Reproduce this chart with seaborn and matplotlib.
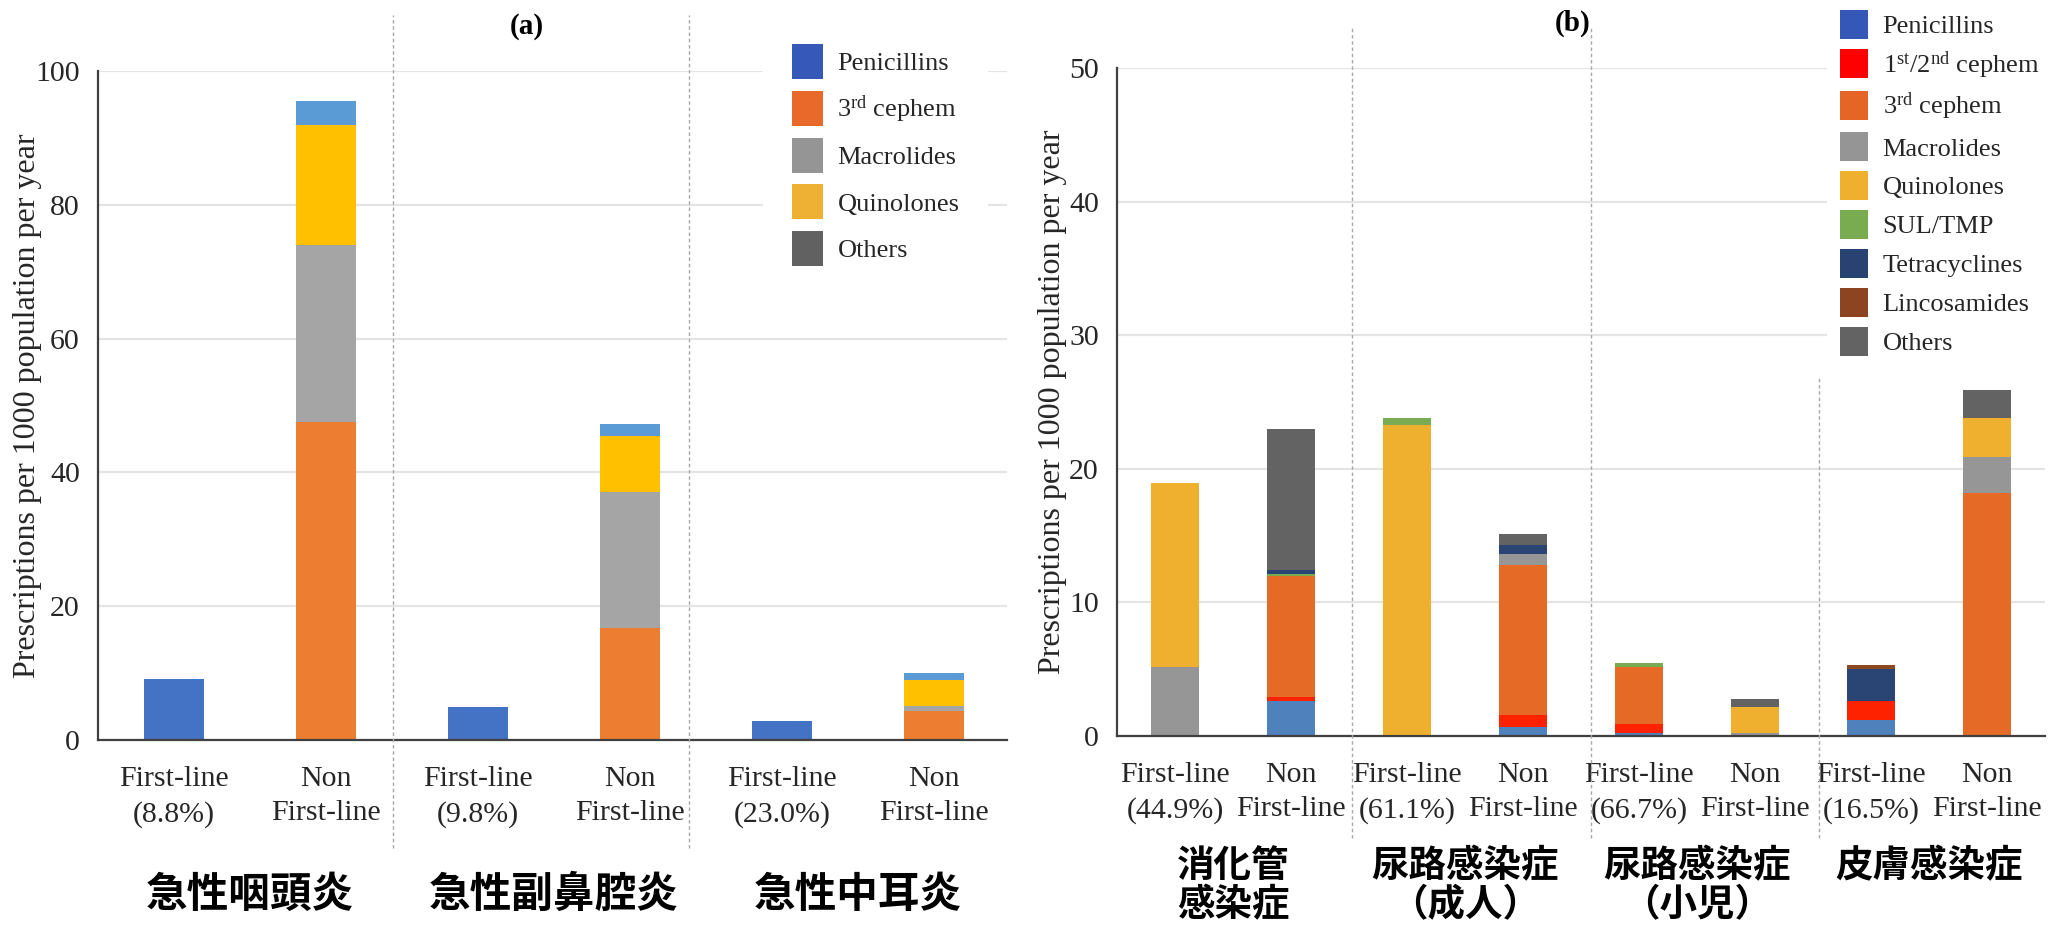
import numpy as np
import pandas as pd
import matplotlib
matplotlib.use("Agg")
import matplotlib.pyplot as plt
import matplotlib.transforms as mtransforms
from matplotlib.patches import Patch
import seaborn as sns

# ---------------- data: (a) acute respiratory tract infections ----------------
a_groups = ["急性咽頭炎", "急性副鼻腔炎", "急性中耳炎"]
a_ticks = ["First-line\n(8.8%)", "Non\nFirst-line",
           "First-line\n(9.8%)", "Non\nFirst-line",
           "First-line\n(23.0%)", "Non\nFirst-line"]
a_classes = ["Penicillins", "3rd cephem", "Macrolides", "Quinolones", "Others"]
a_penicillins = [9.1, 0, 5.0, 0, 2.9, 0]
a_cephem3 = [0, 47.6, 0, 16.7, 0, 4.3]
a_macrolides = [0, 26.4, 0, 20.3, 0, 0.8]
a_quinolones = [0, 18.0, 0, 8.4, 0, 3.9]
a_others = [0, 3.5, 0, 1.8, 0, 1.0]

# ---------------- data: (b) other infections ----------------
b_groups = ["消化管\n感染症", "尿路感染症\n（成人）", "尿路感染症\n（小児）", "皮膚感染症"]
b_ticks = ["First-line\n(44.9%)", "Non\nFirst-line",
           "First-line\n(61.1%)", "Non\nFirst-line",
           "First-line\n(66.7%)", "Non\nFirst-line",
           "First-line\n(16.5%)", "Non\nFirst-line"]
b_classes = ["Penicillins", "1st/2nd cephem", "3rd cephem", "Macrolides", "Quinolones",
             "SUL/TMP", "Tetracyclines", "Lincosamides", "Others"]
b_penicillins = [0, 2.6, 0, 0.7, 0.25, 0, 1.2, 0]
b_cephem12 = [0, 0.35, 0, 0.85, 0.65, 0, 1.4, 0]
b_cephem3 = [0, 9.05, 0, 11.25, 4.3, 0, 0, 18.2]
b_macrolides = [5.2, 0, 0, 0.85, 0, 0.25, 0, 2.7]
b_quinolones = [13.7, 0, 23.3, 0, 0, 1.9, 0, 2.9]
b_sul_tmp = [0, 0.15, 0.5, 0, 0.25, 0, 0, 0]
b_tetracyclines = [0, 0.25, 0, 0.65, 0, 0, 2.4, 0]
b_lincosamides = [0, 0, 0, 0, 0, 0, 0.3, 0]
b_others = [0, 10.6, 0, 0.85, 0, 0.6, 0, 2.1]

# ---------------- colours ----------------
a_bar_colors = ["#4472C4", "#ED7D31", "#A5A5A5", "#FFC000", "#5B9BD5"]
a_legend_colors = ["#3658B8", "#E8692A", "#959595", "#EFB134", "#616161"]
b_bar_colors = ["#4F81BD", "#FF2200", "#E56A26", "#969696", "#EFB030",
                "#79AB52", "#2A4574", "#8B4A1F", "#636363"]
b_legend_colors = ["#3557B7", "#FF0000", "#E46526", "#959595", "#EFB030",
                   "#79AC50", "#284272", "#8C4520", "#636363"]

legend_text = {
    "3rd cephem": r"3$^{\mathrm{rd}}$ cephem",
    "1st/2nd cephem": r"1$^{\mathrm{st}}$/2$^{\mathrm{nd}}$ cephem",
}

sns.set_theme(style="white")
plt.rcParams["font.family"] = ["Liberation Serif", "Noto Sans CJK JP"]
plt.rcParams["mathtext.fontset"] = "custom"
plt.rcParams["mathtext.rm"] = "Liberation Serif"
plt.rcParams["mathtext.it"] = "Liberation Serif:italic"
plt.rcParams["mathtext.bf"] = "Liberation Serif:bold"

TEXT = "#262626"
SPINE = "#404040"
GRID = "#E4E4E4"
DIVIDER = "#A8A8A8"
CJK = "Noto Sans CJK JP"
SERIF = "Liberation Serif"

W, H = 2051, 933
fig = plt.figure(figsize=(W / 100, H / 100), dpi=100)


def px_axes(left, right, top, bottom):
    return fig.add_axes([left / W, 1 - bottom / H, (right - left) / W, (bottom - top) / H])


def stacked_bars(ax, prefix, classes, series, colors, width):
    keys = [f"{prefix}{i}" for i in range(len(series[0]))]
    table = pd.DataFrame(dict(zip(classes, series)), index=keys)
    running = table.cumsum(axis=1)
    # draw cumulative totals from the top layer down so each segment shows
    for cls, col in reversed(list(zip(classes, colors))):
        sns.barplot(x=keys, y=running[cls].values, order=keys, color=col,
                    width=width, saturation=1, linewidth=0, errorbar=None,
                    ax=ax, zorder=2)
    return keys


def style_axes(ax, ticks, ymax, ystep, xlim):
    ax.set_xlim(*xlim)
    ax.set_ylim(0, ymax)
    ax.set_yticks(np.arange(0, ymax + ystep / 2, ystep))
    ax.set_xticks(range(len(ticks)))
    ax.set_xticklabels(ticks, linespacing=1.4)
    ax.set_xlabel("")
    ax.tick_params(axis="both", length=0, labelsize=21.5, colors=TEXT)
    ax.tick_params(axis="x", pad=19)
    ax.tick_params(axis="y", pad=13)
    ax.set_axisbelow(True)
    ax.yaxis.grid(True, color=GRID, linewidth=1.6)
    ax.xaxis.grid(False)
    for side in ("top", "right"):
        ax.spines[side].set_visible(False)
    for side in ("left", "bottom"):
        ax.spines[side].set_color(SPINE)
        ax.spines[side].set_linewidth(1.6)
    ax.set_ylabel("Prescriptions per 1000 population per year", fontsize=23, color=TEXT)


def dividers(ax, xs, spans):
    tr = ax.get_xaxis_transform()
    for x, (y0, y1) in zip(xs, spans):
        ax.plot([x, x], [y0, y1], transform=tr, clip_on=False, color=DIVIDER,
                linewidth=1.0, linestyle=(0, (2.5, 2)), zorder=6)


def group_labels(ax, labels, size, y_top):
    tr = mtransforms.blended_transform_factory(ax.transData, fig.transFigure)
    for i, lab in enumerate(labels):
        ax.text(2 * i + 0.5, y_top, lab, transform=tr, ha="center", va="top",
                fontsize=size, fontweight="bold", family=CJK, color="black",
                linespacing=1.0, clip_on=False)


def legend(ax, classes, colors, anchor, size_w, size_h, spacing, pad):
    handles = [Patch(facecolor=c, edgecolor="none") for c in colors]
    labels = [legend_text.get(c, c) for c in classes]
    leg = ax.legend(handles, labels, loc="upper left",
                    bbox_to_anchor=(anchor[0] / W, 1 - anchor[1] / H),
                    bbox_transform=fig.transFigure,
                    prop={"family": SERIF, "size": 19},
                    handlelength=size_w, handleheight=size_h,
                    labelspacing=spacing, handletextpad=0.55,
                    borderpad=pad, borderaxespad=0, frameon=True,
                    fancybox=False, facecolor="white", edgecolor="none",
                    framealpha=1.0)
    for t in leg.get_texts():
        t.set_color(TEXT)
    return leg


# ---------------- panel (a) ----------------
ax_a = px_axes(98, 1007, 71, 740)
stacked_bars(ax_a, "a", a_classes,
             [a_penicillins, a_cephem3, a_macrolides, a_quinolones, a_others],
             a_bar_colors, width=0.40)
style_axes(ax_a, a_ticks, 100, 20, (-0.5, 5.48))
ax_a.yaxis.set_label_coords(-0.062, 0.5)
dividers(ax_a, [1.44, 3.39], [(-0.161, 1.084), (-0.161, 1.084)])
group_labels(ax_a, a_groups, 30, 1 - 874 / H)
legend(ax_a, a_classes, a_legend_colors, (763, 15), 1.17, 1.66, 0.45, 1.1)
fig.text(527 / W, 1 - 27 / H, "(a)", ha="center", va="center",
         fontsize=21, fontweight="bold", color="black")

# ---------------- panel (b) ----------------
ax_b = px_axes(1117, 2045, 68, 736)
stacked_bars(ax_b, "b", b_classes,
             [b_penicillins, b_cephem12, b_cephem3, b_macrolides, b_quinolones,
              b_sul_tmp, b_tetracyclines, b_lincosamides, b_others],
             b_bar_colors, width=0.41)
style_axes(ax_b, b_ticks, 50, 10, (-0.5, 7.5))
ax_b.yaxis.set_label_coords(-0.054, 0.5)
dividers(ax_b, [1.53, 3.59, 5.55], [(-0.153, 1.061), (-0.153, 1.061), (-0.153, 0.536)])
group_labels(ax_b, b_groups, 27, 1 - 846 / H)
legend(ax_b, b_classes, b_legend_colors, (1827, -3), 1.06, 1.31, 0.38, 0.5)
fig.text(1573 / W, 1 - 23 / H, "(b)", ha="center", va="center",
         fontsize=21, fontweight="bold", color="black")

fig.savefig("out.png", dpi=100)
